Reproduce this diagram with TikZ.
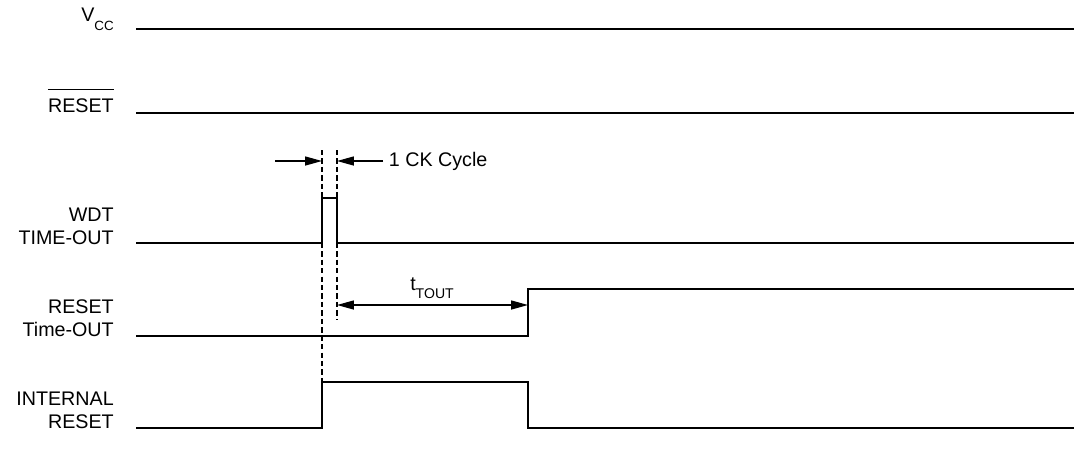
\documentclass[tikz,border=0pt]{standalone}
\usepackage{fontspec}
\setmainfont{Liberation Sans}
\usetikzlibrary{arrows.meta,positioning}

\begin{document}
\begin{tikzpicture}[x=0.025cm,y=-0.025cm,>={Triangle[length=12pt,width=6.4pt]},
  sig/.style={line width=1.6pt},guide/.style={line width=0.8pt,dash pattern=on 3.8pt off 2.2pt},
  dim/.style={line width=0.9pt},
  lbl/.style={align=right,inner sep=0pt,anchor=south east,font=\fontsize{14}{16.3}\selectfont}]
\useasboundingbox (0,0) rectangle (1086,450);
% signal names
\node[lbl,anchor=base east] (vcc) at (114,21) {V\raisebox{-6.4pt}{\fontsize{9.5}{10}\selectfont CC}};
\node[lbl] (rst) at (114,113) {RESET};
\draw[line width=0.8pt] ([yshift=6.4pt]rst.north west) -- ([yshift=6.4pt]rst.north east);
\node[lbl] (wdt) at (114,245) {WDT\\TIME-OUT};
\node[lbl] (rto) at (114,337) {RESET\\Time-OUT};
\node[lbl] (irst) at (114,429) {INTERNAL\\RESET};
% edges in time
\coordinate (ckA) at (322,150); \coordinate (ckB) at (337,150);
\coordinate (ckAend) at (322,381); \coordinate (ckBend) at (337,320);
\coordinate (dimL) at (275,161); \coordinate (dimR) at (383,161);
\coordinate (toA) at (337,305); \coordinate (toB) at (528,305);
% waveforms
\draw[sig] (136,29) -- (1074,29);
\draw[sig] (136,113) -- (1074,113);
\draw[sig] (136,243) -- (322,243) -- (322,198) -- (337,198) -- (337,243) -- (1074,243);
\draw[sig] (136,336) -- (528,336) -- (528,289) -- (1074,289);
\draw[sig] (136,428) -- (322,428) -- (322,382) -- (528,382) -- (528,428) -- (1074,428);
% timing marks
\draw[guide] (ckA) -- (ckAend);
\draw[guide] (ckB) -- (ckBend);
\draw[dim,->] (dimL) -- (dimL -| ckA);
\draw[dim,->] (dimR) -- (dimR -| ckB);
\node[lbl,anchor=west] (ck) at ([xshift=4pt]dimR) {1 CK Cycle};
\draw[dim,<->] (toA) -- (toB);
\node[lbl,anchor=base] (tout) at (432,290) {t\raisebox{-5.7pt}{\fontsize{10}{11}\selectfont TOUT}};
\end{tikzpicture}
\end{document}
